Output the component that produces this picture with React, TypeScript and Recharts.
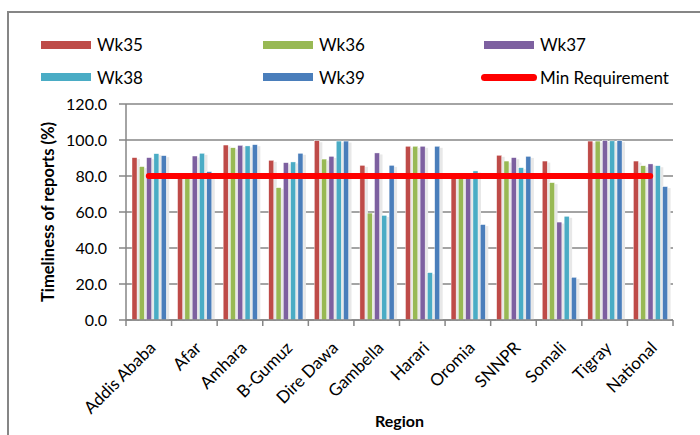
import React from 'react';
import { ComposedChart, Bar, Line, XAxis, YAxis, CartesianGrid, Label } from 'recharts';

// Timeliness of weekly reports per region, weeks 35-39
const regions = [
  'Addis Ababa', 'Afar', 'Amhara', 'B-Gumuz', 'Dire Dawa', 'Gambella',
  'Harari', 'Oromia', 'SNNPR', 'Somali', 'Tigray', 'National',
];
const wk35 = [90.2, 79.6, 97.2, 88.7, 99.6, 85.9, 96.5, 79.8, 91.5, 88.3, 99.4, 88.3];
const wk36 = [85.2, 79.0, 95.7, 73.5, 89.4, 59.4, 96.5, 79.2, 88.3, 76.3, 99.4, 85.7];
const wk37 = [90.2, 91.1, 97.0, 87.4, 90.9, 92.8, 96.5, 79.6, 90.2, 54.4, 99.7, 86.7];
const wk38 = [92.4, 92.6, 96.7, 87.8, 99.4, 58.1, 26.3, 82.8, 84.6, 57.6, 99.5, 85.7];
const wk39 = [91.3, 82.4, 97.4, 92.6, 99.4, 85.9, 96.5, 53.0, 90.9, 23.7, 99.6, 74.1];
const minRequirement = 80;
const yTicks = [0, 20, 40, 60, 80, 100, 120];

const weekNames = ['Wk35', 'Wk36', 'Wk37', 'Wk38', 'Wk39'];
const weekValues = [wk35, wk36, wk37, wk38, wk39];
const weekColors = ['#BE4B48', '#98B954', '#7D60A0', '#4AACC5', '#4A7EBB'];
const minColor = '#FF0000';
const axisColor = '#868686';
const font = 'Lato, "Open Sans", sans-serif';

const data = regions.map((region, i) => {
  const row: Record<string, string | number> = { region, min: minRequirement };
  weekNames.forEach((w, k) => {
    row[w] = weekValues[k][i];
  });
  return row;
});

// bar with a soft grey drop shadow behind it
const ShadowBar = (props: any) => {
  const { x, y, width, height, fill } = props;
  if (!height || height <= 0) return null;
  return (
    <g>
      <rect x={x + 1.2} y={y + 1.5} width={width + 1.8} height={height - 1.5} fill="#e8e8e8" />
      <rect x={x} y={y} width={width} height={height} fill={fill} stroke="#ffffff" strokeWidth={0.4} />
    </g>
  );
};

// category label rotated 45deg, with tick marks on the category boundaries
const RegionTick = (props: any) => {
  const { x, y, payload, index } = props;
  const half = payload.offset ?? 0;
  const axisY = y - 6;
  const tx = x + 8;
  const ty = y + 23;
  return (
    <g>
      <line x1={x - half} x2={x - half} y1={axisY} y2={axisY + 6} stroke={axisColor} strokeWidth={1.5} />
      {index === regions.length - 1 && (
        <line x1={x + half} x2={x + half} y1={axisY} y2={axisY + 6} stroke={axisColor} strokeWidth={1.5} />
      )}
      <text
        x={tx}
        y={ty}
        textAnchor="end"
        transform={`rotate(-45, ${tx}, ${ty})`}
        fill="#000"
        fontSize={17}
        fontFamily={font}
      >
        {payload.value}
      </text>
    </g>
  );
};

const legendItems = [
  ...weekNames.map((name, k) => ({ name, color: weekColors[k], line: false })),
  { name: 'Min Requirement', color: minColor, line: true },
];
const legendColumns = [41, 263, 484];
const legendRows = [44.5, 77];

const App: React.FC = () => {
  return (
    <div
      style={{
        position: 'fixed',
        left: 0,
        top: 0,
        width: 700,
        height: 435,
        overflow: 'hidden',
        background: '#fff',
        fontFamily: font,
      }}
    >
      {legendItems.map((item, i) => {
        const col = legendColumns[i % 3];
        const row = legendRows[Math.floor(i / 3)];
        return (
          <div
            key={item.name}
            style={{
              position: 'absolute',
              left: item.line ? col - 3 : col,
              top: row - 11,
              height: 22,
              display: 'flex',
              alignItems: 'center',
              fontSize: 17,
              color: '#000',
              whiteSpace: 'nowrap',
            }}
          >
            <span
              style={{
                display: 'inline-block',
                width: item.line ? 56 : 50,
                height: item.line ? 7 : 8,
                borderRadius: item.line ? 4 : 0,
                background: item.color,
                marginRight: item.line ? 3 : 6,
              }}
            />
            {item.name}
          </div>
        );
      })}
      <div style={{ position: 'absolute', left: 0, top: 0 }}>
        <ComposedChart
          width={700}
          height={435}
          data={data}
          margin={{ top: 104, right: 27, bottom: 0, left: 0 }}
          barSize={5}
          barGap={2.3}
        >
          <CartesianGrid vertical={false} stroke={axisColor} strokeWidth={1.5} />
          <XAxis
            dataKey="region"
            height={115}
            interval={0}
            tickLine={{ stroke: 'none' }}
            tickSize={6}
            tickMargin={0}
            axisLine={{ stroke: axisColor, strokeWidth: 1.5 }}
            tick={<RegionTick />}
          >
            <Label
              content={(p: any) => {
                const vb = p.viewBox;
                return (
                  <text
                    x={vb.x + vb.width / 2}
                    y={427}
                    textAnchor="middle"
                    fontSize={16}
                    fontWeight="bold"
                    fontFamily={font}
                    fill="#000"
                  >
                    Region
                  </text>
                );
              }}
            />
          </XAxis>
          <YAxis
            width={126}
            domain={[0, 120]}
            ticks={yTicks}
            interval={0}
            tickFormatter={(v: number) => v.toFixed(1)}
            tick={{ fill: '#000', fontSize: 16, fontFamily: font }}
            tickSize={7}
            tickMargin={12}
            tickLine={{ stroke: axisColor, strokeWidth: 1.5 }}
            axisLine={{ stroke: axisColor, strokeWidth: 1.5 }}
          >
            <Label
              content={(p: any) => {
                const vb = p.viewBox;
                const cy = vb.y + vb.height / 2;
                return (
                  <text
                    x={48}
                    y={cy}
                    dominantBaseline="central"
                    textAnchor="middle"
                    transform={`rotate(-90, 48, ${cy})`}
                    fontSize={16.5}
                    fontWeight="bold"
                    fontFamily={font}
                    fill="#000"
                  >
                    Timeliness of reports (%)
                  </text>
                );
              }}
            />
          </YAxis>
          {weekNames.map((name, k) => (
            <Bar
              key={name}
              dataKey={name}
              fill={weekColors[k]}
              shape={<ShadowBar />}
              isAnimationActive={false}
            />
          ))}
          <Line
            dataKey="min"
            name="Min Requirement"
            stroke={minColor}
            strokeWidth={6}
            strokeLinecap="round"
            dot={false}
            activeDot={false}
            isAnimationActive={false}
          />
        </ComposedChart>
      </div>
      {/* outer chart frame */}
      <div
        style={{
          position: 'absolute',
          left: 7,
          top: 11,
          width: 740,
          height: 480,
          borderTop: `2px solid ${axisColor}`,
          borderLeft: `2px solid ${axisColor}`,
          pointerEvents: 'none',
        }}
      />
    </div>
  );
};

export default App;
